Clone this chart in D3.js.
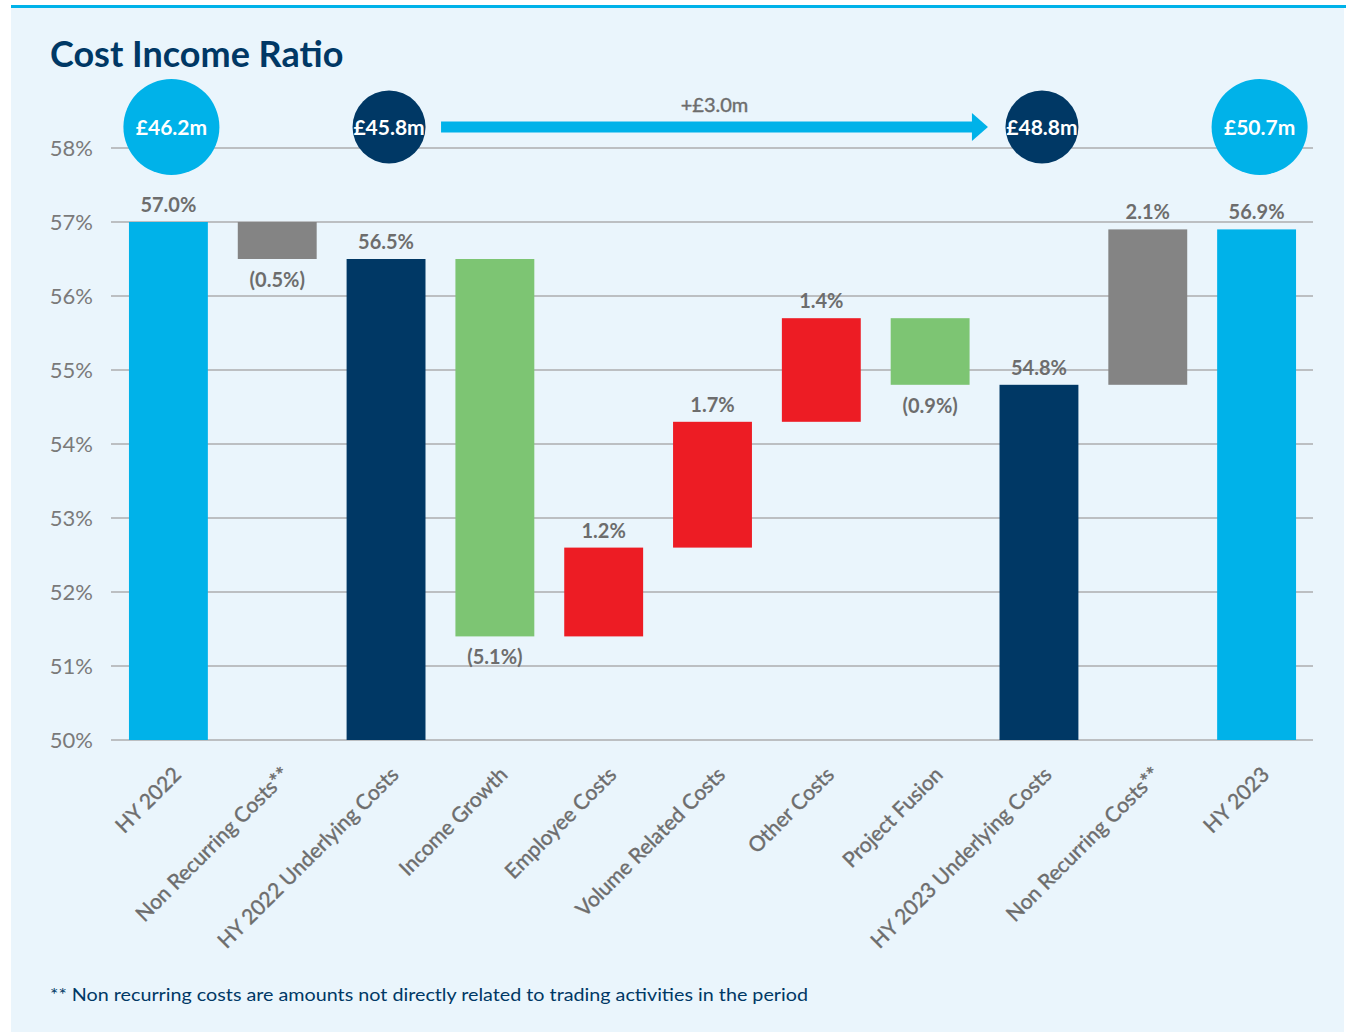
<!DOCTYPE html>
<html>
<head>
<meta charset="utf-8">
<script src="https://cdn.jsdelivr.net/npm/d3@7"></script>
<style>
  body { margin: 0; background: #fff; }
  svg { display: block; }
  text { font-family: Lato, "Open Sans", sans-serif; }
</style>
</head>
<body>
<div id="chart"></div>
<script>
// waterfall data
const categories = ['HY 2022', 'Non Recurring Costs**', 'HY 2022 Underlying Costs', 'Income Growth',
  'Employee Costs', 'Volume Related Costs', 'Other Costs', 'Project Fusion',
  'HY 2023 Underlying Costs', 'Non Recurring Costs**', 'HY 2023']
const kinds = ['total', 'delta', 'total', 'delta', 'delta', 'delta', 'delta', 'delta', 'total', 'delta', 'total']
const values = [57.0, -0.5, 56.5, -5.1, 1.2, 1.7, 1.4, -0.9, 54.8, 2.1, 56.9]
const barColors = ['#00b2e9', '#848484', '#003865', '#7dc573', '#ed1c24', '#ed1c24', '#ed1c24', '#7dc573', '#003865', '#848484', '#00b2e9']
const yTicks = [50, 51, 52, 53, 54, 55, 56, 57, 58]

// money circles above the chart
const circleIndex = [0, 2, 8, 10]
const circleLabels = ['£46.2m', '£45.8m', '£48.8m', '£50.7m']
const circleBig = [true, false, false, true]
const arrowLabel = '+£3.0m'

const width = 1346, height = 1034
const svg = d3.select('#chart').append('svg')
  .attr('width', width)
  .attr('height', height)

// panel
svg.append('rect').attr('x', 11).attr('y', 6).attr('width', 1333).attr('height', 1026).attr('fill', '#eaf5fc')
svg.append('rect').attr('x', 11).attr('y', 5).attr('width', 1335).attr('height', 3).attr('fill', '#00b2e9')

svg.append('text')
  .attr('x', 50).attr('y', 67)
  .attr('fill', '#003865')
  .attr('font-size', 36).attr('font-weight', 700)
  .text('Cost Income Ratio')

const x = d3.scaleBand()
  .domain(d3.range(categories.length))
  .range([114, 1311])
  .paddingInner(0.275)
  .paddingOuter(0.1375)

const y = d3.scaleLinear().domain([50, 58]).range([740, 148])

// gridlines
svg.append('g')
  .selectAll('line')
  .data(yTicks)
  .join('line')
  .attr('x1', 111).attr('x2', 1313)
  .attr('y1', d => y(d)).attr('y2', d => y(d))
  .attr('stroke', '#bcbfc2').attr('stroke-width', 2)

svg.append('g')
  .selectAll('text')
  .data(yTicks)
  .join('text')
  .attr('x', 93).attr('y', d => y(d))
  .attr('dy', '0.36em')
  .attr('text-anchor', 'end')
  .attr('fill', '#7a7a7a')
  .attr('font-size', 22)
  .text(d => d + '%')

// build waterfall segments
let running = 0
const bars = values.map((v, i) => {
  let lo, hi
  if (kinds[i] === 'total') {
    lo = 50; hi = v; running = v
  } else {
    const start = running
    running = +(running + v).toFixed(1)
    lo = Math.min(start, running); hi = Math.max(start, running)
  }
  return { i, v, lo, hi, kind: kinds[i] }
})

svg.append('g')
  .selectAll('rect')
  .data(bars)
  .join('rect')
  .attr('x', d => x(d.i))
  .attr('width', x.bandwidth())
  .attr('y', d => y(d.hi))
  .attr('height', d => y(d.lo) - y(d.hi))
  .attr('fill', d => barColors[d.i])

const fmt = d => {
  if (d.kind === 'total') return d.v.toFixed(1) + '%'
  return d.v < 0 ? '(' + Math.abs(d.v).toFixed(1) + '%)' : d.v.toFixed(1) + '%'
}

svg.append('g')
  .selectAll('text')
  .data(bars)
  .join('text')
  .attr('x', d => x(d.i) + x.bandwidth() / 2)
  .attr('y', d => (d.kind === 'delta' && d.v < 0) ? y(d.lo) + 28 : y(d.hi) - 10)
  .attr('text-anchor', 'middle')
  .attr('fill', '#6d6d6d')
  .attr('font-size', 20).attr('font-weight', 700)
  .text(fmt)

// category labels, rotated
svg.append('g')
  .selectAll('text')
  .data(categories)
  .join('text')
  .attr('transform', (d, i) => `translate(${x(i) + x.bandwidth() / 2 + 14},${776}) rotate(-45)`)
  .attr('text-anchor', 'end')
  .attr('fill', '#6d6d6d')
  .attr('stroke', '#6d6d6d').attr('stroke-width', 0.4)
  .attr('font-size', 21)
  .text(d => d)

// circles
const cy = 127
const circ = svg.append('g')
  .selectAll('g')
  .data(circleIndex)
  .join('g')
  .attr('transform', (d, k) => `translate(${x(d) + x.bandwidth() / 2 + 3},${cy})`)

circ.append('circle')
  .attr('r', (d, k) => circleBig[k] ? 48 : 36.5)
  .attr('fill', (d, k) => barColors[d])

circ.append('text')
  .attr('text-anchor', 'middle')
  .attr('dy', '0.36em')
  .attr('fill', '#fff')
  .attr('font-size', 21).attr('font-weight', 700)
  .text((d, k) => circleLabels[k])

// arrow between underlying figures
const ax1 = x(2) + x.bandwidth() / 2 + 55
const ax2 = x(8) + x.bandwidth() / 2 - 51
svg.append('rect')
  .attr('x', ax1).attr('y', cy - 5.5)
  .attr('width', ax2 - 15 - ax1).attr('height', 11)
  .attr('fill', '#00b2e9')
svg.append('path')
  .attr('d', `M${ax2 - 16},${cy - 14}L${ax2},${cy}L${ax2 - 16},${cy + 14}Z`)
  .attr('fill', '#00b2e9')
svg.append('text')
  .attr('x', (ax1 + ax2) / 2).attr('y', 112)
  .attr('text-anchor', 'middle')
  .attr('fill', '#6d6d6d')
  .attr('stroke', '#6d6d6d').attr('stroke-width', 0.4)
  .attr('font-size', 20)
  .text(arrowLabel)

svg.append('text')
  .attr('x', 50).attr('y', 1001)
  .attr('fill', '#003865')
  .attr('font-size', 18)
  .attr('font-family', '"Liberation Sans Narrow", "DejaVu Sans Condensed", sans-serif')
  .attr('textLength', 758).attr('lengthAdjust', 'spacingAndGlyphs')
  .text('** Non recurring costs are amounts not directly related to trading activities in the period')
</script>
</body>
</html>
